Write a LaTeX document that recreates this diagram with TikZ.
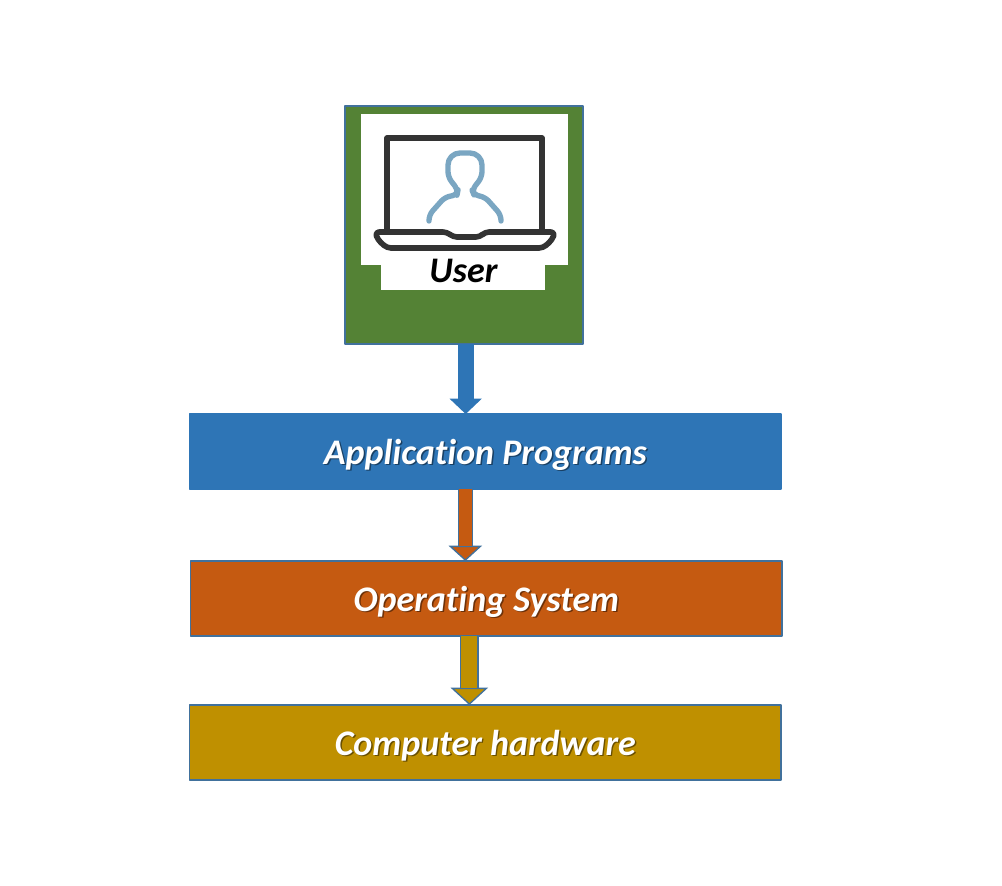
\documentclass[tikz,border=0pt]{standalone}
\usepackage{fontspec}
\setmainfont{Carlito}[Ligatures=NoCommon]
\usetikzlibrary{positioning, arrows.meta}

\definecolor{usergreen}{HTML}{548235}
\definecolor{appblue}{HTML}{2E75B6}
\definecolor{osorange}{HTML}{C55A11}
\definecolor{hwgold}{HTML}{BF9000}
\definecolor{edgeblue}{HTML}{41719C}
\definecolor{screendark}{HTML}{333333}
\definecolor{personblue}{HTML}{7AA6C2}

\newcommand{\softtext}[2]{\rlap{\hspace{1.1pt}\raisebox{-1.1pt}{\color{#1!55!black}#2}}#2}

\begin{document}
\begin{tikzpicture}[x=0.75pt, y=-0.75pt, line join=round,
    layer/.style = {draw=edgeblue, line width=1.3pt, fill=#1, minimum width=443.6pt, text height=37.6pt, text depth=18.9pt,
        inner sep=0pt, outer sep=0pt, text=white, font=\fontsize{27}{30}\selectfont\bfseries\itshape},
    panel/.style = {fill=white, inner sep=0pt, outer sep=0pt},
    flow/.style n args = {5}{draw=#3, line width=#1, -{Triangle[width=#4, length=#5, fill=#2, color=#3, line width=1pt]},
        postaction={draw=#2, line width=#1-2pt, -, shorten >=#5-0.5pt}},
    ]
    \useasboundingbox (0,0) rectangle (1002,885);
    \node[draw=edgeblue, line width=1.5pt, fill=usergreen, minimum size=178.5pt, inner sep=0pt, outer sep=0pt] (user) at (464,225) {};
    \node[panel, minimum width=155pt, minimum height=113pt] (screen) at (464.5,189.5) {};
    \node[panel, minimum width=123pt, text height=13.5pt, text depth=5.25pt, xshift=-1.5pt, font=\fontsize{27}{30}\selectfont\bfseries\itshape] (name) [below=0pt of screen] {\hspace*{1.5pt}User};

    \node[layer=appblue, draw=appblue, xshift=16pt] (app) [below=52.5pt of user] {\softtext{appblue}{Application Programs}};
    \node[layer=osorange, xshift=0.75pt] (os) [below=53.75pt of app] {\softtext{osorange}{Operating System}};
    \node[layer=hwgold, xshift=-0.75pt] (hw) [below=51.5pt of os] {\softtext{hwgold}{Computer hardware}};

    % laptop and the person on its screen
    \draw[screendark, line width=4.2pt] (387,233) -- (387,138) -- (542,138) -- (542,233);
    \draw[screendark, line width=4.2pt, rounded corners=3pt] (375,232) -- (447,232) -- (453,237) -- (480,237) -- (485,232) -- (555,232)
        -- (552,240) -- (543,248) -- (387,248) -- (378,240) -- cycle;
    \draw[personblue, line width=4pt, line cap=round, rounded corners=4pt] (429,221) -- (429,215) -- (445,197) -- (457,195) -- (458,190)
        -- (448,177) [rounded corners=9pt] -- (448,153) -- (482,153) [rounded corners=4pt] -- (482,177) -- (472,190) -- (474,195) -- (485,197) -- (501,215) -- (501,221);

    \draw[flow={12pt}{appblue}{appblue}{24pt}{11.5pt}] ([xshift=1.25pt]user.south) -- ([xshift=1.25pt]user.south |- app.north);
    \draw[flow={11.5pt}{osorange}{edgeblue}{25pt}{11.5pt}] ([xshift=-15pt]app.south) -- ([xshift=-15pt]app.south |- os.north);
    \draw[flow={14pt}{hwgold}{edgeblue}{28pt}{13pt}] ([xshift=-12.75pt]os.south) -- ([xshift=-12.75pt]os.south |- hw.north);
\end{tikzpicture}
\end{document}
